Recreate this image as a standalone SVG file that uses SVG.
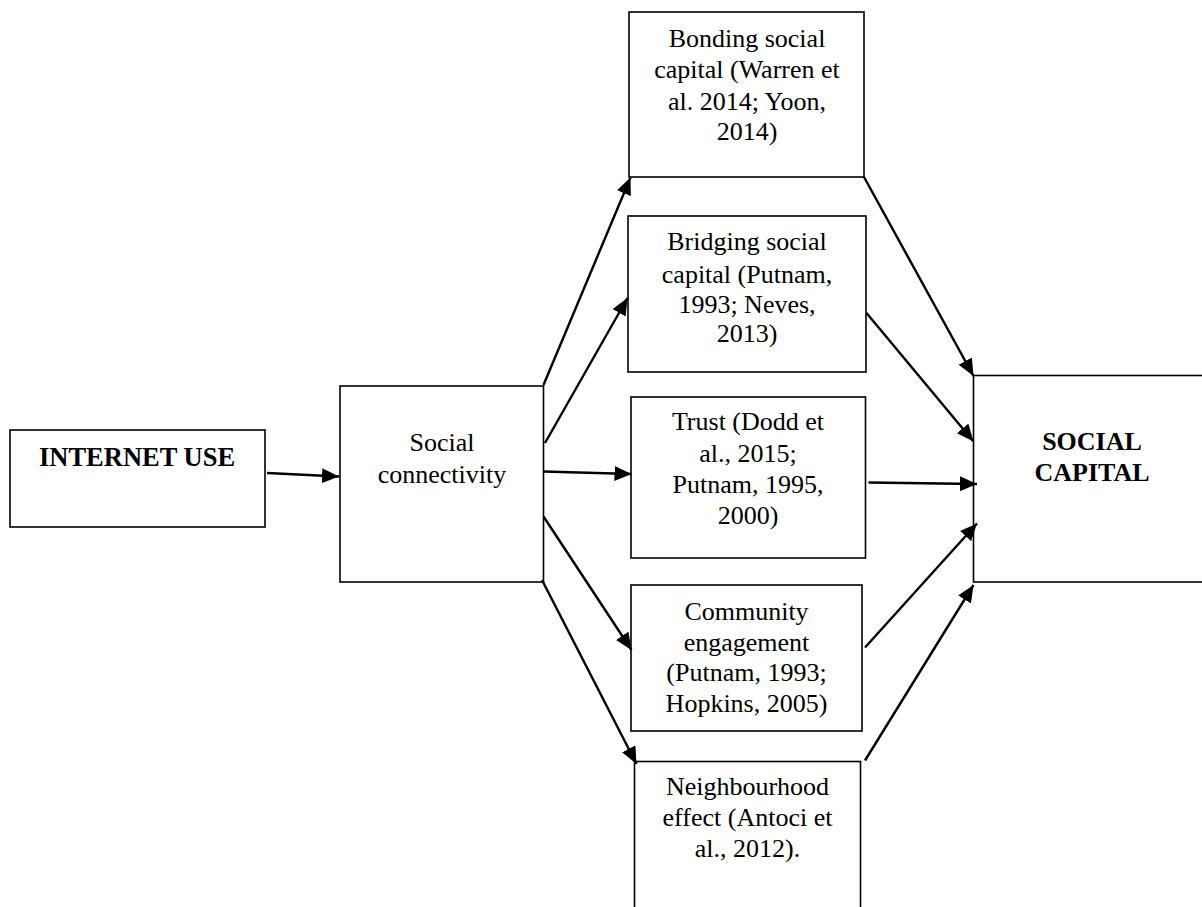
<svg xmlns="http://www.w3.org/2000/svg" width="1202" height="907" viewBox="0 0 1202 907">
<style>
.box{fill:#fff;stroke:#000;stroke-width:1.6}
.t{font-family:"Liberation Serif","Times New Roman",serif;font-size:26px;fill:#000;text-anchor:middle}
.b{font-weight:bold}
.c{stroke:#000;stroke-width:2.4;fill:none}
</style>
<defs>
<marker id="ah" viewBox="0 0 17 15" refX="17" refY="7.5" markerWidth="17" markerHeight="15" markerUnits="userSpaceOnUse" orient="auto">
<path d="M0,0 L17,7.5 L0,15 Z" fill="#000"/>
</marker>
</defs>
<rect width="1202" height="907" fill="#fff"/>
<g id="internet-use">
<rect class="box" x="10" y="430" width="255" height="97"/>
<text class="t b" x="137" y="466" style="font-size:26.5px">INTERNET USE</text>
</g>
<g id="social-connectivity">
<rect class="box" x="340" y="386" width="203.5" height="196"/>
<text class="t" x="442" y="451">Social</text>
<text class="t" x="442" y="482.5">connectivity</text>
</g>
<g id="bonding">
<rect class="box" x="629" y="12" width="235" height="165"/>
<text class="t" x="747" y="47">Bonding social</text>
<text class="t" x="747" y="78">capital (Warren et</text>
<text class="t" x="747" y="110">al. 2014; Yoon,</text>
<text class="t" x="747" y="140">2014)</text>
</g>
<g id="bridging">
<rect class="box" x="628" y="216" width="238" height="156"/>
<text class="t" x="747" y="250">Bridging social</text>
<text class="t" x="747" y="282.5">capital (Putnam,</text>
<text class="t" x="747" y="313">1993; Neves,</text>
<text class="t" x="747" y="342">2013)</text>
</g>
<g id="trust">
<rect class="box" x="631" y="397" width="234.5" height="161"/>
<text class="t" x="748" y="430">Trust (Dodd et</text>
<text class="t" x="748" y="461.5">al., 2015;</text>
<text class="t" x="748" y="493">Putnam, 1995,</text>
<text class="t" x="748" y="524">2000)</text>
</g>
<g id="community">
<rect class="box" x="631" y="585" width="231" height="146"/>
<text class="t" x="746.5" y="620">Community</text>
<text class="t" x="746.5" y="650.5">engagement</text>
<text class="t" x="746.5" y="680.5">(Putnam, 1993;</text>
<text class="t" x="746.5" y="711.5">Hopkins, 2005)</text>
</g>
<g id="neighbourhood">
<rect class="box" x="634.5" y="761.5" width="226" height="160"/>
<text class="t" x="747.5" y="795">Neighbourhood</text>
<text class="t" x="747.5" y="825.5">effect (Antoci et</text>
<text class="t" x="747.5" y="856.5">al., 2012).</text>
</g>
<g id="social-capital">
<rect class="box" x="973.5" y="375.5" width="240" height="206.5"/>
<text class="t b" x="1092" y="450">SOCIAL</text>
<text class="t b" x="1092" y="480.5">CAPITAL</text>
</g>
<g id="connectors">
<line class="c" x1="267" y1="473" x2="339" y2="476.5" marker-end="url(#ah)"/>
<line class="c" x1="543.5" y1="385" x2="630.5" y2="177.5" marker-end="url(#ah)"/>
<line class="c" x1="545" y1="443" x2="627.5" y2="298" marker-end="url(#ah)"/>
<line class="c" x1="543.5" y1="471.5" x2="631.5" y2="474" marker-end="url(#ah)"/>
<line class="c" x1="543.5" y1="516.5" x2="631.5" y2="650" marker-end="url(#ah)"/>
<line class="c" x1="542" y1="580" x2="636.5" y2="764" marker-end="url(#ah)"/>
<line class="c" x1="864" y1="177" x2="973.5" y2="376" marker-end="url(#ah)"/>
<line class="c" x1="866.5" y1="313" x2="973.5" y2="441.5" marker-end="url(#ah)"/>
<line class="c" x1="868.5" y1="482.5" x2="977" y2="484" marker-end="url(#ah)"/>
<line class="c" x1="865" y1="647.5" x2="977" y2="523.5" marker-end="url(#ah)"/>
<line class="c" x1="865" y1="760.5" x2="973.5" y2="585" marker-end="url(#ah)"/>
</g>
</svg>
